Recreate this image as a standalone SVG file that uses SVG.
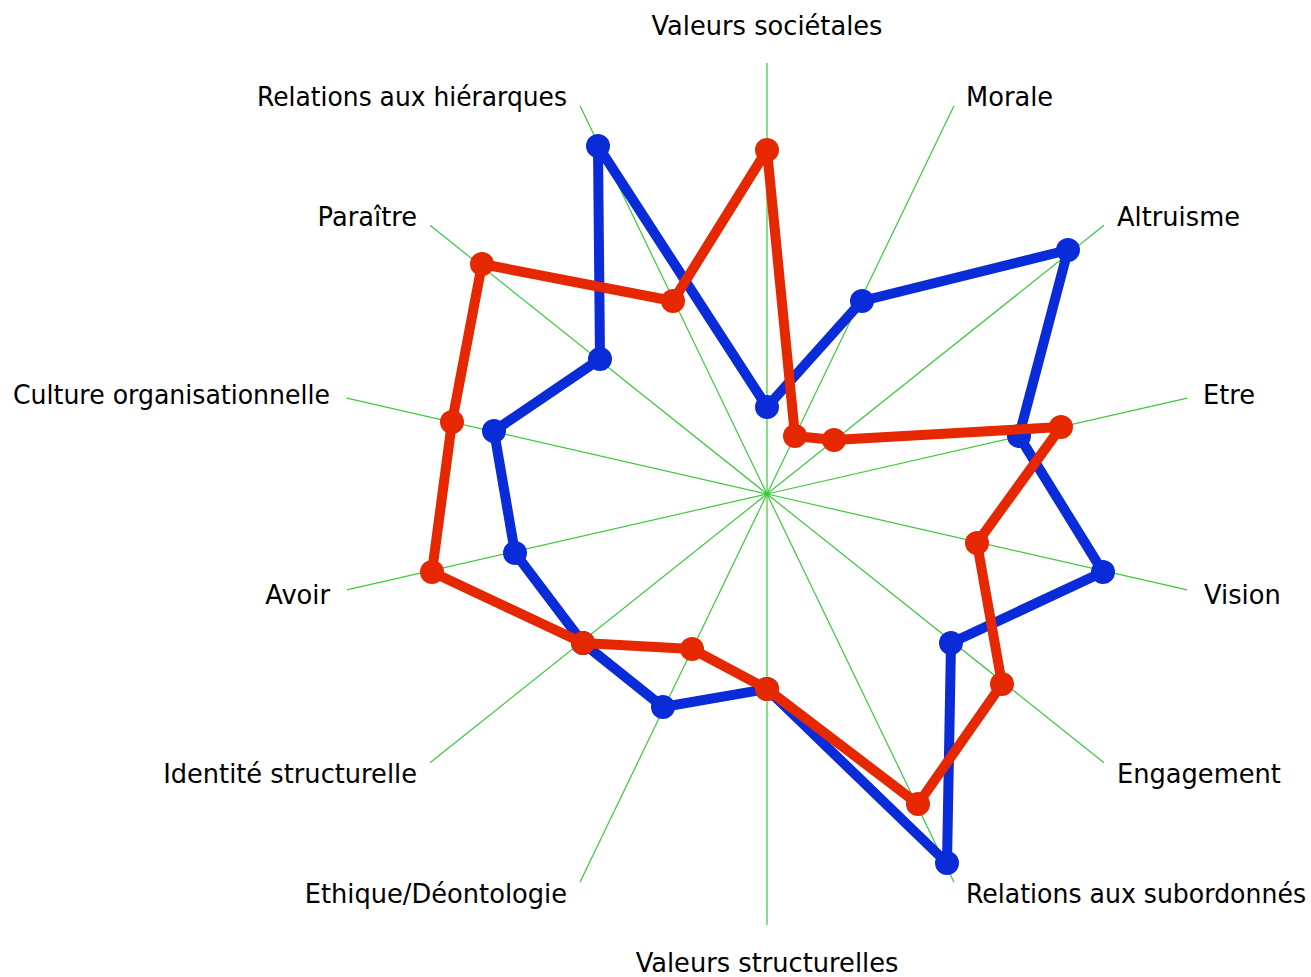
<svg xmlns="http://www.w3.org/2000/svg" width="1311" height="977" viewBox="0 0 1311 977">
<style>
.axis{stroke:#3cc83c;stroke-width:1.2;fill:none}
.lbl{font-family:"DejaVu Sans","Liberation Sans",sans-serif;font-size:25.7px;fill:#000}
.blue{stroke:#0a2bd8;stroke-width:10;fill:none;stroke-linejoin:round}
.red{stroke:#e52800;stroke-width:10;fill:none;stroke-linejoin:round}
.bd{fill:#0a2bd8}
.rd{fill:#e52800}
</style>
<rect width="1311" height="977" fill="#fff"/>
<g id="axes">
<line class="axis" x1="767" y1="494" x2="767" y2="63"/>
<line class="axis" x1="767" y1="494" x2="954" y2="105.7"/>
<line class="axis" x1="767" y1="494" x2="1104" y2="225.3"/>
<line class="axis" x1="767" y1="494" x2="1187.2" y2="398.1"/>
<line class="axis" x1="767" y1="494" x2="1187.2" y2="589.9"/>
<line class="axis" x1="767" y1="494" x2="1104" y2="762.7"/>
<line class="axis" x1="767" y1="494" x2="954" y2="882.3"/>
<line class="axis" x1="767" y1="494" x2="767" y2="925"/>
<line class="axis" x1="767" y1="494" x2="580" y2="882.3"/>
<line class="axis" x1="767" y1="494" x2="430" y2="762.7"/>
<line class="axis" x1="767" y1="494" x2="346.8" y2="589.9"/>
<line class="axis" x1="767" y1="494" x2="346.8" y2="398.1"/>
<line class="axis" x1="767" y1="494" x2="430" y2="225.3"/>
<line class="axis" x1="767" y1="494" x2="580" y2="105.7"/>
</g>
<g id="labels">
<text class="lbl" x="767" y="35" text-anchor="middle">Valeurs sociétales</text>
<text class="lbl" x="966" y="106">Morale</text>
<text class="lbl" x="1117" y="226">Altruisme</text>
<text class="lbl" x="1203" y="404">Etre</text>
<text class="lbl" x="1204" y="604">Vision</text>
<text class="lbl" x="1117" y="783">Engagement</text>
<text class="lbl" x="966" y="903" textLength="340" lengthAdjust="spacingAndGlyphs">Relations aux subordonnés</text>
<text class="lbl" x="767" y="972" text-anchor="middle">Valeurs structurelles</text>
<text class="lbl" x="567" y="903" text-anchor="end">Ethique/Déontologie</text>
<text class="lbl" x="417" y="783" text-anchor="end">Identité structurelle</text>
<text class="lbl" x="330" y="604" text-anchor="end">Avoir</text>
<text class="lbl" x="330" y="404" text-anchor="end" textLength="317" lengthAdjust="spacingAndGlyphs">Culture organisationnelle</text>
<text class="lbl" x="417" y="226" text-anchor="end">Paraître</text>
<text class="lbl" x="567" y="106" text-anchor="end" textLength="310" lengthAdjust="spacingAndGlyphs">Relations aux hiérarques</text>
</g>
<g id="series-blue">
<polygon class="blue" points="767,407 862,301 1068,250 1019,436 1103,572 951,643 947,863 767,689 663,707 583,643 515,553 494,431 600,359 598,146"/>
<circle class="bd" cx="767" cy="407" r="12"/>
<circle class="bd" cx="862" cy="301" r="12"/>
<circle class="bd" cx="1068" cy="250" r="12"/>
<circle class="bd" cx="1019" cy="436" r="12"/>
<circle class="bd" cx="1103" cy="572" r="12"/>
<circle class="bd" cx="951" cy="643" r="12"/>
<circle class="bd" cx="947" cy="863" r="12"/>
<circle class="bd" cx="767" cy="689" r="12"/>
<circle class="bd" cx="663" cy="707" r="12"/>
<circle class="bd" cx="583" cy="643" r="12"/>
<circle class="bd" cx="515" cy="553" r="12"/>
<circle class="bd" cx="494" cy="431" r="12"/>
<circle class="bd" cx="600" cy="359" r="12"/>
<circle class="bd" cx="598" cy="146" r="12"/>
</g>
<g id="series-red">
<polygon class="red" points="767,150 795,436 834,440 1061,427 977,543 1002,684 918,804 767,689 692,649 583,643 432,572 452,422 482,264 673,301"/>
<circle class="rd" cx="767" cy="150" r="12"/>
<circle class="rd" cx="795" cy="436" r="12"/>
<circle class="rd" cx="834" cy="440" r="12"/>
<circle class="rd" cx="1061" cy="427" r="12"/>
<circle class="rd" cx="977" cy="543" r="12"/>
<circle class="rd" cx="1002" cy="684" r="12"/>
<circle class="rd" cx="918" cy="804" r="12"/>
<circle class="rd" cx="767" cy="689" r="12"/>
<circle class="rd" cx="692" cy="649" r="12"/>
<circle class="rd" cx="583" cy="643" r="12"/>
<circle class="rd" cx="432" cy="572" r="12"/>
<circle class="rd" cx="452" cy="422" r="12"/>
<circle class="rd" cx="482" cy="264" r="12"/>
<circle class="rd" cx="673" cy="301" r="12"/>
</g>
</svg>
